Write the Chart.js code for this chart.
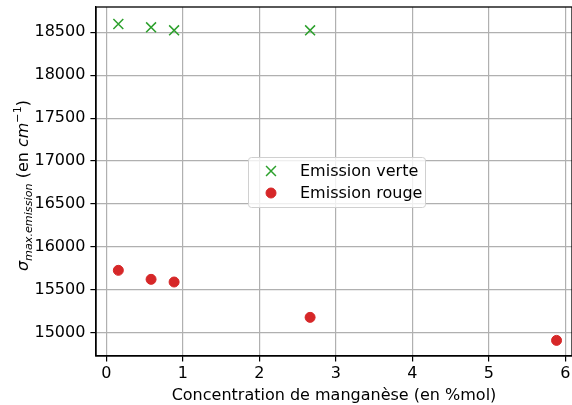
<!DOCTYPE html>
<html lang="fr">
<head>
  <meta charset="UTF-8">
  <title>Emission vs manganèse</title>
  <script src="https://cdn.jsdelivr.net/npm/chart.js"></script>
  <style>
    html, body { margin: 0; padding: 0; background: #fff; }
    #wrap { width: 572px; height: 405px; }
  </style>
</head>
<body>
<div id="wrap"><canvas id="chart" width="572" height="405"></canvas></div>

<script>
  // data
  const concVerte = [0.157, 0.585, 0.886, 2.664];
  const sigmaVerte = [18597, 18558, 18523, 18523];
  const concRouge = [0.157, 0.585, 0.886, 2.664, 5.886];
  const sigmaRouge = [15727, 15622, 15591, 15179, 14911];
  const xTicks = [0, 1, 2, 3, 4, 5, 6];
  const yTicks = [15000, 15500, 16000, 16500, 17000, 17500, 18000, 18500];

  const FONT = 'DejaVu Sans';
  const FS = 16;
  const SUB = 11.2;
  const green = '#2ca02c';
  const red = '#d62728';

  const toPoints = (xs, ys) => xs.map((x, i) => ({ x: x, y: ys[i] }));

  // frame on all four sides + y label with sub/superscripts + legend
  const decorations = {
    id: 'decorations',
    afterDatasetsDraw(chart) {
      const { ctx, chartArea: a } = chart;
      ctx.save();
      ctx.strokeStyle = '#000';
      ctx.lineWidth = 1.3;
      ctx.strokeRect(a.left, a.top, a.right - a.left, a.bottom - a.top);
      ctx.restore();
    },
    afterDraw(chart) {
      const { ctx, chartArea: a } = chart;

      // y axis title
      ctx.save();
      ctx.translate(28, (a.top + a.bottom) / 2 + 4);
      ctx.rotate(-Math.PI / 2);
      ctx.fillStyle = '#000';
      ctx.textBaseline = 'alphabetic';
      const parts = [
        { t: 'σ', f: 'italic ' + FS + 'px ' + FONT, dy: 0 },
        { t: 'max.emission', f: 'italic ' + SUB + 'px ' + FONT, dy: 3.5 },
        { t: ' (en ', f: FS + 'px ' + FONT, dy: 0 },
        { t: 'cm', f: 'italic ' + FS + 'px ' + FONT, dy: 0 },
        { t: '−1', f: SUB + 'px ' + FONT, dy: -7 },
        { t: ')', f: FS + 'px ' + FONT, dy: 0 }
      ];
      let total = 0;
      parts.forEach(p => { ctx.font = p.f; p.w = ctx.measureText(p.t).width; total += p.w; });
      let x = -total / 2;
      parts.forEach(p => {
        ctx.font = p.f;
        ctx.fillText(p.t, x, p.dy);
        x += p.w;
      });
      ctx.restore();

      // legend box in the middle of the axes
      const lx = 248, ly = 157, lw = 177, lh = 50;
      ctx.save();
      ctx.fillStyle = 'rgba(255,255,255,0.8)';
      ctx.strokeStyle = '#d0d0d0';
      ctx.lineWidth = 1;
      ctx.beginPath();
      ctx.roundRect(lx + 0.5, ly + 0.5, lw, lh, 3);
      ctx.fill();
      ctx.stroke();

      ctx.font = FS + 'px ' + FONT;
      ctx.textBaseline = 'middle';
      const rows = [
        { label: 'Emission verte', style: 'crossRot', color: green, y: 171 },
        { label: 'Emission rouge', style: 'circle', color: red, y: 193 }
      ];
      rows.forEach(r => {
        const isX = r.style === 'crossRot';
        ctx.strokeStyle = r.color;
        ctx.fillStyle = r.color;
        ctx.lineWidth = isX ? 1.5 : 1;
        Chart.helpers.drawPoint(ctx, { pointStyle: r.style, radius: isX ? 7 : 5, rotation: 0, borderWidth: ctx.lineWidth }, 271, r.y);
        ctx.fillStyle = '#000';
        ctx.fillText(r.label, 300, r.y + 1);
      });
      ctx.restore();
    }
  };

  new Chart(document.getElementById('chart'), {
    type: 'scatter',
    data: {
      datasets: [
        {
          label: 'Emission verte',
          data: toPoints(concVerte, sigmaVerte),
          pointStyle: 'crossRot',
          radius: 7,
          borderColor: green,
          backgroundColor: green,
          borderWidth: 1.5
        },
        {
          label: 'Emission rouge',
          data: toPoints(concRouge, sigmaRouge),
          pointStyle: 'circle',
          radius: 5,
          borderColor: red,
          backgroundColor: red,
          borderWidth: 1
        }
      ]
    },
    options: {
      responsive: false,
      animation: false,
      layout: { autoPadding: false, padding: { top: 7, right: 0, left: 0, bottom: 0 } },
      plugins: {
        legend: { display: false },
        tooltip: { enabled: false }
      },
      scales: {
        x: {
          type: 'linear',
          min: -0.135,
          max: 6.088,
          afterBuildTicks: s => { s.ticks = xTicks.map(v => ({ value: v })); },
          afterFit: s => { s.height = 49; s.paddingLeft = 0; s.paddingRight = 0; },
          grid: { color: '#b0b0b0', lineWidth: 1.2, tickColor: '#000', tickLength: 5.6 },
          border: { color: '#000', width: 1.3 },
          ticks: { color: '#000', font: { family: FONT, size: FS }, padding: 3, maxRotation: 0, callback: v => String(v) },
          title: {
            display: true,
            text: 'Concentration de manganèse (en %mol)',
            color: '#000',
            font: { family: FONT, size: FS },
            padding: { top: 0, bottom: 0 }
          }
        },
        y: {
          type: 'linear',
          min: 14729,
          max: 18795,
          afterBuildTicks: s => { s.ticks = yTicks.map(v => ({ value: v })); },
          afterFit: s => { s.width = 96; s.paddingTop = 0; s.paddingBottom = 0; },
          grid: { color: '#b0b0b0', lineWidth: 1.2, tickColor: '#000', tickLength: 5.6 },
          border: { color: '#000', width: 1.3 },
          ticks: { color: '#000', font: { family: FONT, size: FS }, padding: 5, callback: v => String(v) }
        }
      }
    },
    plugins: [decorations]
  });
</script>
</body>
</html>
